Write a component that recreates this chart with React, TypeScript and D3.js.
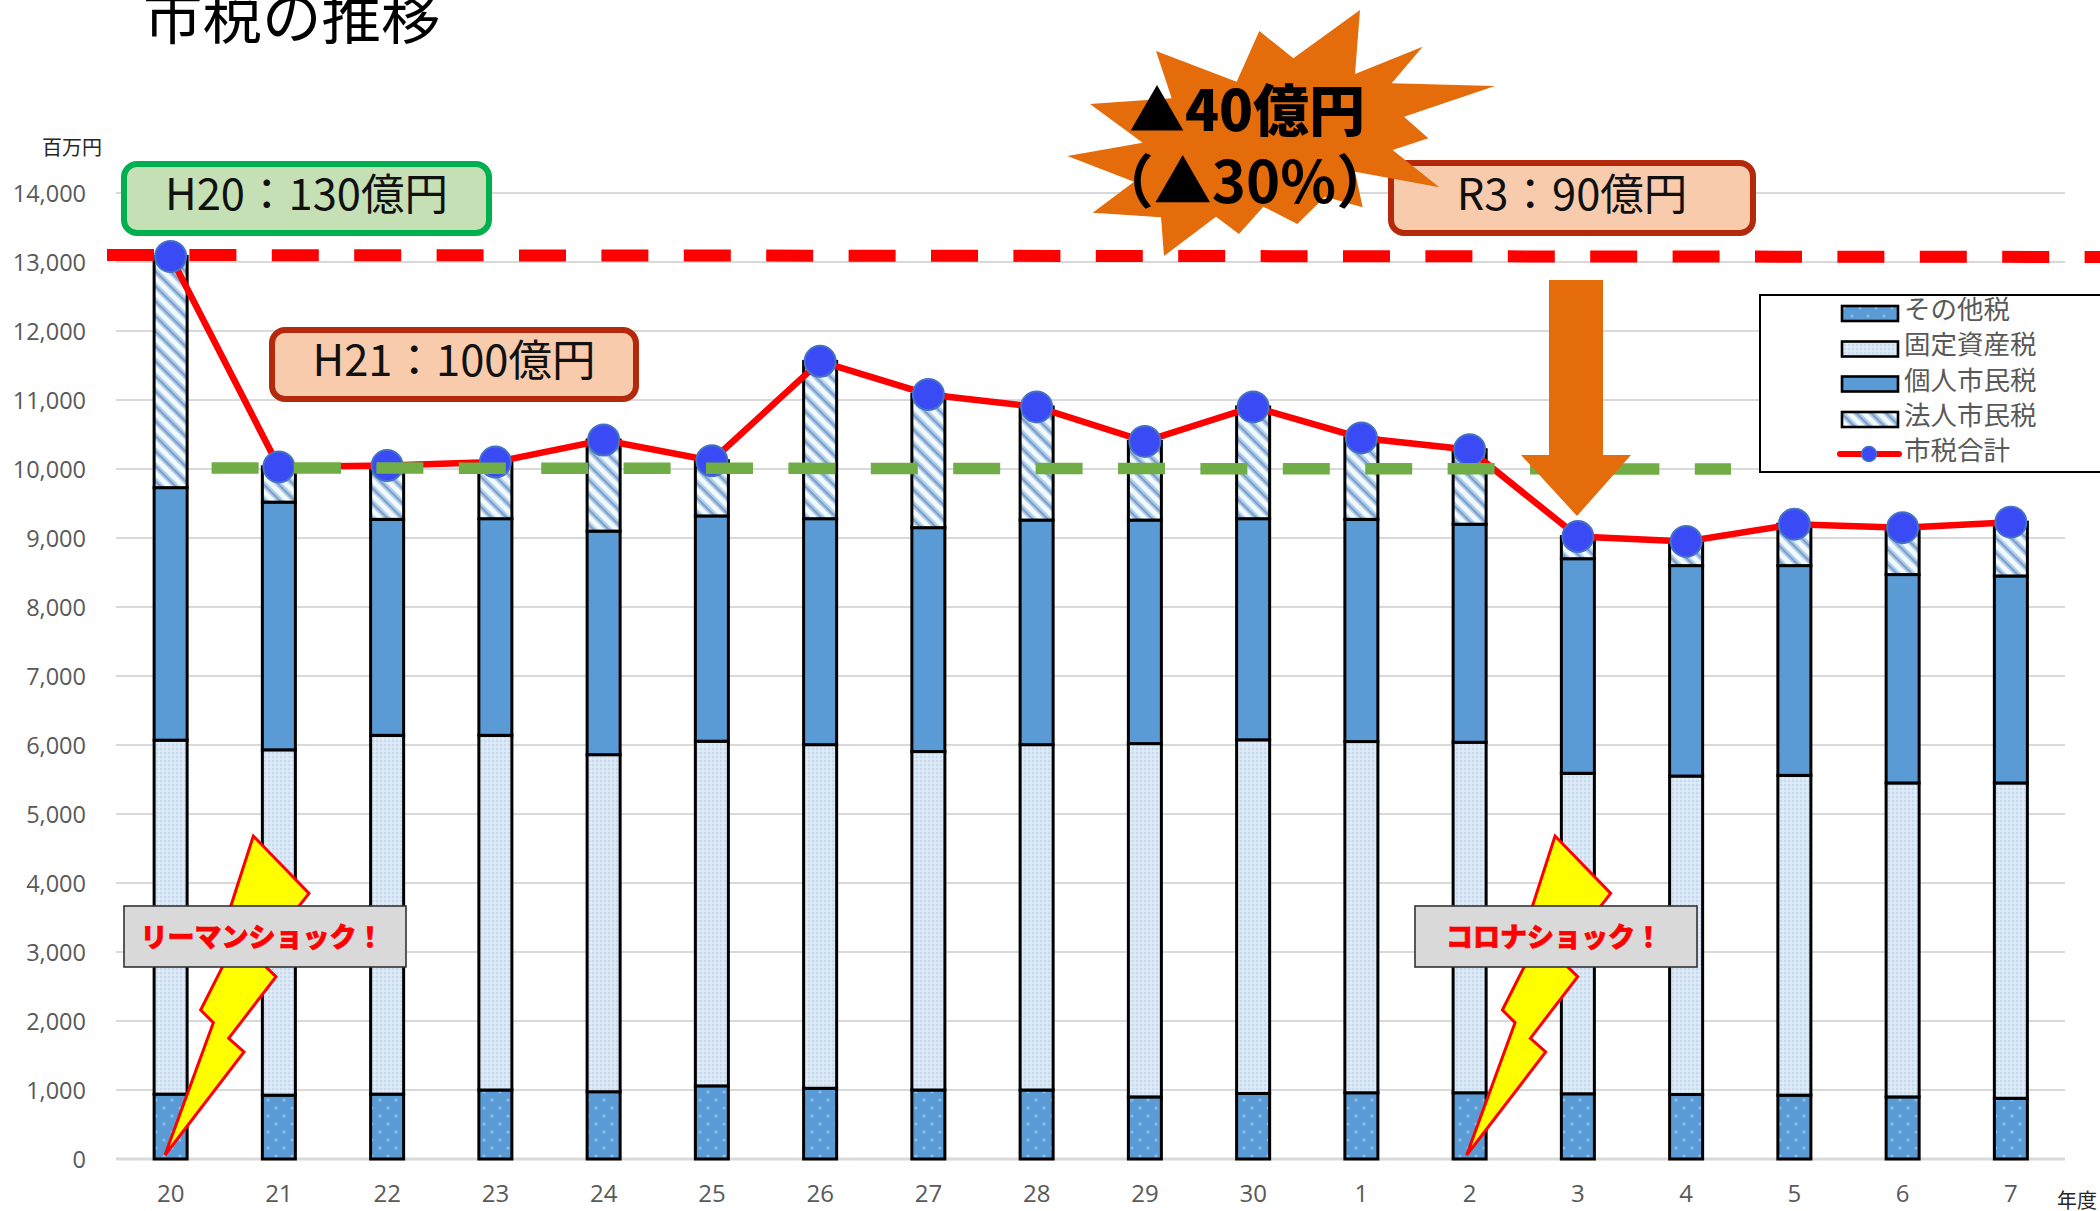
import { useEffect, useRef } from 'react';
import * as d3 from 'd3';

const years = ['20', '21', '22', '23', '24', '25', '26', '27', '28', '29', '30', '1', '2', '3', '4', '5', '6', '7'];

// 百万円
const otherTax = [940, 925, 940, 1000, 975, 1060, 1025, 1000, 1000, 900, 950, 960, 960, 945, 935, 925, 900, 880];
const propertyTax = [5130, 5005, 5200, 5140, 4885, 4995, 4980, 4905, 5005, 5120, 5125, 5090, 5080, 4645, 4615, 4635, 4550, 4570];
const residentTax = [3660, 3590, 3130, 3140, 3240, 3265, 3275, 3245, 3255, 3240, 3205, 3220, 3160, 3110, 3050, 3040, 3020, 3000];
const corporateTax = [3350, 510, 780, 820, 1320, 800, 2280, 1930, 1640, 1140, 1620, 1180, 1080, 320, 350, 600, 680, 780];
const totalTax = [13080, 10030, 10050, 10100, 10420, 10120, 11560, 11080, 10900, 10400, 10900, 10450, 10280, 9020, 8950, 9200, 9150, 9230];

const yTicks = [0, 1000, 2000, 3000, 4000, 5000, 6000, 7000, 8000, 9000, 10000, 11000, 12000, 13000, 14000];
const legendLabels = ['その他税', '固定資産税', '個人市民税', '法人市民税', '市税合計'];

const JP = '"Noto Sans CJK JP", sans-serif';
const NUM = '"Open Sans", sans-serif';

// annotation shapes, in page pixels
const burst = [
  [900, 30], [885, 222], [1088, 140], [995, 250], [1305, 258], [1032, 350], [1105, 415], [998, 450], [1138, 562],
  [885, 515], [908, 622], [795, 590], [712, 672], [610, 620], [537, 702], [468, 650], [312, 768], [303, 652],
  [98, 638], [222, 545], [22, 468], [248, 428], [90, 312], [335, 295], [288, 153], [530, 245], [598, 93], [700, 175],
].map(([x, y]) => [1060 + x / 3, y / 3]);

const bolt = [
  [460, 108], [627, 280], [472, 476], [528, 530], [386, 715], [432, 756], [195, 1065], [340, 668], [302, 630],
  [365, 505], [400, 440], [358, 425],
].map(([x, y]) => [100 + x / 3, 800 + y / 3]);

export default function App() {
  const svgRef = useRef<SVGSVGElement>(null);

  useEffect(() => {
    if (!svgRef.current) return;
    const svg = d3.select(svgRef.current);
    svg.selectAll('*').remove();

    const x = d3.scaleBand().domain(years).range([116.5, 2065]).paddingInner(0.695).paddingOuter(0.3475);
    const y = d3.scaleLinear().domain([0, 14000]).range([1159, 193]);
    const cx = (d: string) => (x(d) || 0) + x.bandwidth() / 2;

    // Patterns
    const defs = svg.append('defs');
    const hatch = defs.append('pattern').attr('id', 'hatch').attr('patternUnits', 'userSpaceOnUse')
      .attr('width', 10.6).attr('height', 10.6).attr('patternTransform', 'rotate(-45)');
    hatch.append('rect').attr('width', 10.6).attr('height', 10.6).attr('fill', '#f3fafe');
    hatch.append('rect').attr('width', 1.5).attr('height', 10.6).attr('fill', '#b5d5f0');
    hatch.append('rect').attr('x', 1.5).attr('width', 2.8).attr('height', 10.6).attr('fill', '#7f9dc6');
    hatch.append('rect').attr('x', 4.3).attr('width', 1.7).attr('height', 10.6).attr('fill', '#a5cdee');

    const dots = defs.append('pattern').attr('id', 'dots').attr('patternUnits', 'userSpaceOnUse')
      .attr('width', 4).attr('height', 4);
    dots.append('rect').attr('width', 4).attr('height', 4).attr('fill', '#d8e7f5');
    dots.append('circle').attr('cx', 1).attr('cy', 1).attr('r', 0.8).attr('fill', '#b4cadf');
    dots.append('circle').attr('cx', 3).attr('cy', 3).attr('r', 0.7).attr('fill', '#eef5fb');

    const spots = defs.append('pattern').attr('id', 'spots').attr('patternUnits', 'userSpaceOnUse')
      .attr('width', 16).attr('height', 16);
    spots.append('rect').attr('width', 16).attr('height', 16).attr('fill', '#5b9bd5');
    spots.append('circle').attr('cx', 4).attr('cy', 4).attr('r', 1.6).attr('fill', '#8dbfe9');
    spots.append('circle').attr('cx', 12).attr('cy', 12).attr('r', 1.6).attr('fill', '#8dbfe9');

    // Gridlines
    svg.append('g').selectAll('line').data(yTicks).join('line')
      .attr('x1', 116).attr('x2', 2065)
      .attr('y1', (d) => y(d)).attr('y2', (d) => y(d))
      .attr('stroke', '#d9d9d9').attr('stroke-width', (d) => (d === 0 ? 3 : 2));

    // Axes
    const yAxis = svg.append('g').attr('transform', 'translate(116,0)')
      .call(d3.axisLeft(y).tickValues(yTicks).tickSize(0).tickPadding(30).tickFormat((d) => d3.format(',')(d as number)));
    yAxis.select('.domain').remove();
    yAxis.selectAll('text').style('font-family', NUM).style('font-size', '23.5px').attr('fill', '#595959').attr('dy', '0.38em');

    const xAxis = svg.append('g').attr('transform', 'translate(0,1159)')
      .call(d3.axisBottom(x).tickSize(0).tickPadding(26));
    xAxis.select('.domain').remove();
    xAxis.selectAll('text').style('font-family', NUM).style('font-size', '24px').attr('fill', '#595959');

    svg.append('text').attr('x', 42).attr('y', 155).attr('font-family', JP).attr('font-size', 20)
      .attr('fill', '#262626').text('百万円');
    svg.append('text').attr('x', 2057).attr('y', 1208).attr('font-family', JP).attr('font-size', 20)
      .attr('fill', '#262626').text('年度');

    // Stacked bars
    const rows = years.map((year, i) => ({
      year,
      other: otherTax[i],
      property: propertyTax[i],
      resident: residentTax[i],
      corporate: corporateTax[i],
    }));
    const stack = d3.stack<(typeof rows)[number]>().keys(['other', 'property', 'resident', 'corporate']);
    const fills = ['url(#spots)', 'url(#dots)', '#5b9bd5', 'url(#hatch)'];

    svg.append('g').selectAll('g').data(stack(rows)).join('g')
      .attr('fill', (_, i) => fills[i])
      .selectAll('rect').data((s) => s).join('rect')
      .attr('x', (d) => x(d.data.year) || 0)
      .attr('width', x.bandwidth())
      .attr('y', (d) => y(d[1]))
      .attr('height', (d) => y(d[0]) - y(d[1]))
      .attr('stroke', '#000').attr('stroke-width', 3);

    // 13,000 dashed reference
    svg.append('line')
      .attr('x1', 107).attr('x2', 2100).attr('y1', y(13102)).attr('y2', y(13073))
      .attr('stroke', '#ff0000').attr('stroke-width', 12).attr('stroke-dasharray', '47 35.4');

    // Total line
    const line = d3.line<number>().x((_, i) => cx(years[i])).y((d) => y(d));
    svg.append('path').attr('d', line(totalTax)).attr('fill', 'none').attr('stroke', '#ff0000').attr('stroke-width', 6.5);
    svg.append('g').selectAll('circle').data(totalTax).join('circle')
      .attr('cx', (_, i) => cx(years[i])).attr('cy', (d) => y(d)).attr('r', 15.5)
      .attr('fill', '#3a4bf5').attr('stroke', '#4472c4').attr('stroke-width', 2);

    // 10,000 dashed reference
    svg.append('line')
      .attr('x1', 211.6).attr('x2', 1731).attr('y1', y(10015)).attr('y2', y(10000))
      .attr('stroke', '#70ad47').attr('stroke-width', 11.5).attr('stroke-dasharray', '47 35.4');

    // Legend
    const legend = svg.append('g');
    legend.append('rect').attr('x', 1760).attr('y', 295).attr('width', 360).attr('height', 177)
      .attr('fill', '#fff').attr('stroke', '#000').attr('stroke-width', 2);
    const swatchY = [313.5, 349, 384, 419.5];
    ['url(#spots)', 'url(#dots)', '#5b9bd5', 'url(#hatch)'].forEach((f, i) => {
      legend.append('rect').attr('x', 1842).attr('y', swatchY[i] - 7.5).attr('width', 56).attr('height', 15)
        .attr('fill', f).attr('stroke', '#000').attr('stroke-width', 2.6);
    });
    legend.append('line').attr('x1', 1840).attr('x2', 1899).attr('y1', 454).attr('y2', 454)
      .attr('stroke', '#ff0000').attr('stroke-width', 6).attr('stroke-linecap', 'round');
    legend.append('circle').attr('cx', 1869).attr('cy', 454).attr('r', 7.5)
      .attr('fill', '#3a4bf5').attr('stroke', '#4472c4').attr('stroke-width', 1.5);
    legend.selectAll('text').data(legendLabels).join('text')
      .attr('x', 1904).attr('y', (_, i) => 309.5 + i * 35.3)
      .attr('dy', '0.36em').attr('font-family', JP).attr('font-size', 26.5).attr('fill', '#595959')
      .text((d) => d);

    // Title
    svg.append('text').attr('x', 143).attr('y', 39).attr('font-family', JP).attr('font-size', 59.5)
      .attr('fill', '#000').text('市税の推移');

    // Value callouts
    const callout = (bx: number, by: number, w: number, h: number, fill: string, stroke: string, label: string) => {
      svg.append('rect').attr('x', bx).attr('y', by).attr('width', w).attr('height', h).attr('rx', 13)
        .attr('fill', fill).attr('stroke', stroke).attr('stroke-width', 6);
      svg.append('text').attr('x', bx + w / 2).attr('y', by + h / 2 - 4).attr('dy', '0.36em')
        .attr('text-anchor', 'middle').attr('font-family', JP).attr('font-size', 43.5).attr('fill', '#111')
        .text(label);
    };
    callout(124, 164, 365, 69, '#c5e0b4', '#00b050', 'H20：130億円');
    callout(272, 330, 364, 69, '#f8cbad', '#b4290c', 'H21：100億円');
    callout(1391, 163, 362, 70, '#f8cbad', '#b4290c', 'R3：90億円');

    // Down arrow
    const arrow = [[1549, 280], [1603, 280], [1603, 455], [1631, 455], [1577, 516], [1521, 455], [1549, 455]];
    svg.append('polygon').attr('points', arrow.join(' ')).attr('fill', '#e46c0a');

    // Burst
    svg.append('polygon').attr('points', burst.join(' ')).attr('fill', '#e46c0a');
    svg.append('text').attr('x', 1247).attr('y', 131).attr('text-anchor', 'middle').attr('font-family', JP)
      .attr('font-size', 56).attr('font-weight', 900).attr('fill', '#000').text('▲40億円');
    svg.append('text').attr('x', 1245).attr('y', 203).attr('text-anchor', 'middle').attr('font-family', JP)
      .attr('font-size', 58).attr('font-weight', 700).attr('fill', '#000').text('（▲30%）');

    // Shock labels
    const shock = (dx: number, bx: number, textX: number, label: string) => {
      svg.append('polygon').attr('points', bolt.map(([px, py]) => [px + dx, py]).join(' '))
        .attr('fill', '#ffff00').attr('stroke', '#ff0000').attr('stroke-width', 3);
      svg.append('rect').attr('x', bx).attr('y', 906).attr('width', 282).attr('height', 61)
        .attr('fill', '#d9d9d9').attr('stroke', '#333').attr('stroke-width', 1.6);
      svg.append('text').attr('x', textX).attr('y', 937).attr('dy', '0.36em').attr('text-anchor', 'middle')
        .attr('font-family', JP).attr('font-size', 27).attr('font-weight', 900).attr('fill', '#ff0000')
        .attr('stroke', '#ff0000').attr('stroke-width', 0.7).text(label);
    };
    shock(0, 124, 262, 'リーマンショック！');
    shock(1301.7, 1415, 1554, 'コロナショック！');
  }, []);

  return (
    <svg
      ref={svgRef}
      width={2100}
      height={1211}
      style={{ position: 'absolute', left: 0, top: 0, background: '#fff' }}
    />
  );
}
